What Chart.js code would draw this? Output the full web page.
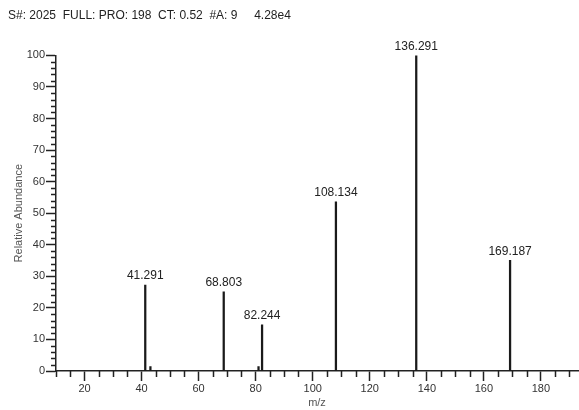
<!DOCTYPE html>
<html>
<head>
<meta charset="utf-8">
<script src="https://cdn.jsdelivr.net/npm/chart.js@4/dist/chart.umd.min.js"></script>
<style>
  html, body { margin: 0; padding: 0; background: #fff; }
  #wrap { width: 579px; height: 410px; }
</style>
</head>
<body>
<div id="wrap"><canvas id="msChart"></canvas></div>
<script>
// peak data
const peakMz = [41.291, 43.1, 68.803, 81.0, 82.244, 108.134, 136.291, 169.187];
const peakAbund = [27.2, 1.4, 25.1, 1.4, 14.6, 53.6, 100, 35.1];
const peakLabels = ['41.291', '', '68.803', '', '82.244', '108.134', '136.291', '169.187'];
const headerText = 'S#: 2025  FULL: PRO: 198  CT: 0.52  #A: 9     4.28e4';

const FONT = 'Arial, "Liberation Sans", sans-serif';
const AXIS = '#222';

// minor ticks + peak labels
const extrasPlugin = {
    id: 'extras',
    afterDraw(chart) {
        const ctx = chart.ctx;
        const xs = chart.scales.x, ys = chart.scales.y;
        ctx.save();
        ctx.strokeStyle = AXIS;
        ctx.lineWidth = 1.5;
        ctx.beginPath();
        for (let v = 10; v <= 190; v += 5) {
            if (v % 20 === 0) continue;
            const px = Math.round(xs.getPixelForValue(v)) + 0.5;
            ctx.moveTo(px, xs.top);
            ctx.lineTo(px, xs.top + 6);
        }
        for (let v = 0; v <= 100; v += 2) {
            if (v % 10 === 0) continue;
            const py = Math.round(ys.getPixelForValue(v)) + 0.5;
            ctx.moveTo(ys.right, py);
            ctx.lineTo(ys.right - 5, py);
        }
        ctx.stroke();

        ctx.fillStyle = '#222';
        ctx.font = '12px ' + FONT;
        ctx.textAlign = 'center';
        ctx.textBaseline = 'bottom';
        peakMz.forEach((mz, i) => {
            if (!peakLabels[i]) return;
            ctx.fillText(peakLabels[i], xs.getPixelForValue(mz), ys.getPixelForValue(peakAbund[i]) - 3);
        });
        ctx.restore();
    }
};

new Chart(document.getElementById('msChart').getContext('2d'), {
    type: 'bar',
    data: {
        datasets: [{
            data: peakMz.map((mz, i) => ({ x: mz, y: peakAbund[i] })),
            backgroundColor: '#1a1a1a',
            borderWidth: 0,
            barThickness: 1.6
        }]
    },
    options: {
        responsive: true,
        maintainAspectRatio: false,
        animation: false,
        layout: { padding: { top: 6, left: 8, right: 1, bottom: 0 } },
        plugins: {
            legend: { display: false },
            tooltip: { enabled: false },
            title: {
                display: true,
                text: headerText,
                align: 'start',
                color: '#222',
                font: { family: FONT, size: 12, weight: 'normal' },
                padding: { top: 2, bottom: 33 }
            }
        },
        scales: {
            x: {
                type: 'linear',
                min: 10,
                max: 193,
                offset: false,
                afterBuildTicks(s) { s.ticks = s.ticks.filter(t => t.value % 20 === 0); },
                afterFit(s) { s.height = 39; },
                ticks: { stepSize: 20, color: '#333', font: { family: FONT, size: 11 }, padding: 1, maxRotation: 0 },
                grid: { display: true, drawOnChartArea: false, offset: false, tickLength: 10, tickColor: AXIS, tickWidth: 1.5 },
                border: { color: AXIS, width: 1.5 },
                title: { display: true, text: 'm/z', color: '#555', font: { family: FONT, size: 11 }, padding: { top: 0, bottom: 0 } }
            },
            y: {
                min: 0,
                max: 100,
                afterFit(s) { s.width = 48; },
                ticks: { stepSize: 10, color: '#333', font: { family: FONT, size: 11 }, padding: 1 },
                grid: { display: true, drawOnChartArea: false, tickLength: 10, tickColor: AXIS, tickWidth: 1.5 },
                border: { color: AXIS, width: 1.5 },
                title: { display: true, text: 'Relative Abundance', color: '#555', font: { family: FONT, size: 11 }, padding: { top: 4, bottom: 0 } }
            }
        }
    },
    plugins: [extrasPlugin]
});
</script>
</body>
</html>
